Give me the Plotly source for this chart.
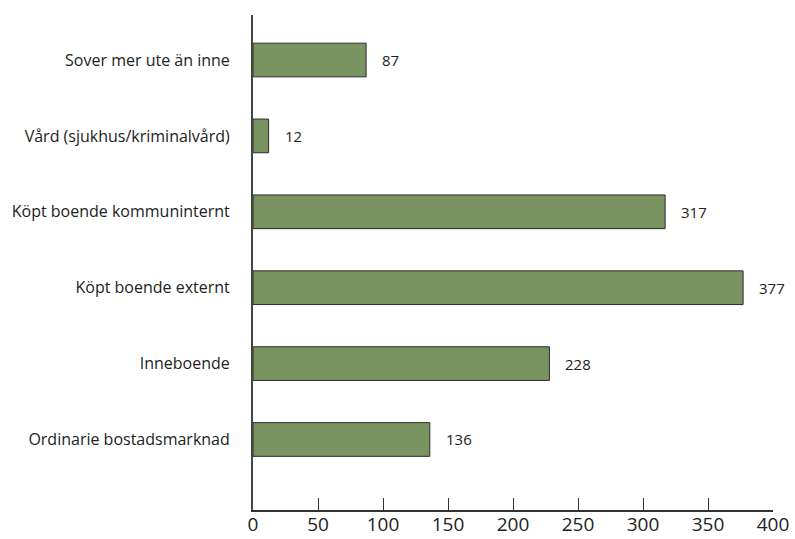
import plotly.graph_objects as go

categories = ["Ordinarie bostadsmarknad", "Inneboende", "Köpt boende externt",
              "Köpt boende kommuninternt", "Vård (sjukhus/kriminalvård)", "Sover mer ute än inne"]
values = [136, 228, 377, 317, 12, 87]
x_ticks = [0, 50, 100, 150, 200, 250, 300, 350, 400]

FONT = "Open Sans"

fig = go.Figure()
fig.add_trace(go.Bar(
    y=list(range(len(categories))), x=values, orientation="h",
    width=0.444,
    marker=dict(color="#7a9461", line=dict(color="#2b2b2b", width=1)),
    hoverinfo="skip",
))
for i, v in enumerate(values):
    fig.add_annotation(x=v, y=i, text=str(v), showarrow=False, xanchor="left",
                       xshift=14, font=dict(family=FONT, size=15, color="#222"))

fig.update_layout(
    width=795, height=539,
    margin=dict(l=253, r=22, t=15, b=29, autoexpand=False),
    plot_bgcolor="white", paper_bgcolor="white",
    showlegend=False,
    font=dict(family=FONT, color="#222"),
)
fig.update_xaxes(
    range=[0, 400], tickvals=x_ticks, ticktext=[str(t) for t in x_ticks],
    showgrid=False, zeroline=False, showline=True, linecolor="#333", linewidth=1.5,
    ticks="inside", ticklen=12, tickcolor="#333", tickwidth=1.2,
    ticklabelstandoff=-4,
    tickfont=dict(family=FONT, size=19, color="#222"),
)
fig.update_yaxes(
    range=[-0.929, 5.593], tickvals=list(range(len(categories))), ticktext=categories,
    showgrid=False, zeroline=False, showline=True, linecolor="#444", linewidth=2,
    ticks="outside", ticklen=18, tickcolor="rgba(0,0,0,0)",
    tickfont=dict(family=FONT, size=16, color="#222"),
)
fig.write_html("out.html")
